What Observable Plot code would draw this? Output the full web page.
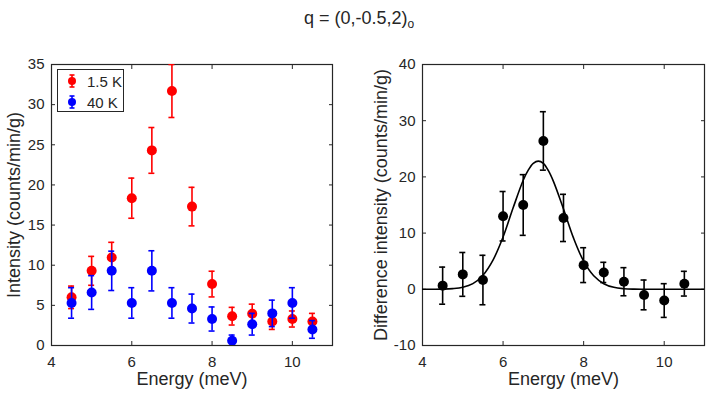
<!DOCTYPE html>
<html><head><meta charset="utf-8">
<script src="https://cdn.jsdelivr.net/npm/d3@7"></script>
<script src="https://cdn.jsdelivr.net/npm/@observablehq/plot@0.6"></script>
<style>
body{margin:0;background:#fff;font-family:"Liberation Sans",Arial,sans-serif;}
#wrap{position:relative;width:718px;height:399px;overflow:hidden;background:#fff;}
#title{position:absolute;left:0;width:718px;top:8px;text-align:center;font-size:18px;color:#262626;}
#title sub{font-size:12px;vertical-align:-4px;}
#left{position:absolute;left:0;top:40px;}
#right{position:absolute;left:360px;top:40px;}
#legend{position:absolute;left:57px;top:69px;width:65px;height:41px;border:1px solid #262626;background:#fff;font-size:15px;color:#262626;}
#legend .row{position:absolute;left:0;height:20px;display:flex;align-items:center;white-space:nowrap;}
#legend svg{display:block;}
svg text{font-family:"Liberation Sans",Arial,sans-serif;}
</style></head>
<body>
<div id="wrap">
  <div id="title">q = (0,-0.5,2)<sub>o</sub></div>
  <div id="left"></div>
  <div id="right"></div>
  <div id="legend"></div>
</div>
<script>
// ---- data ----
const energy   = [4.5, 5, 5.5, 6, 6.5, 7, 7.5, 8, 8.5, 9, 9.5, 10, 10.5];
const int15K   = [6.0, 9.3, 10.95, 18.35, 24.3, 31.7, 17.3, 7.65, 3.65, 3.95, 3.0, 3.3, 3.0];
const err15K   = [1.4, 1.8, 1.9, 2.5, 2.85, 3.3, 2.4, 1.6, 1.1, 1.2, 1.0, 1.0, 1.0];
const int40K   = [5.3, 6.6, 9.3, 5.3, 9.3, 5.3, 4.6, 3.3, 0.6, 2.65, 4.0, 5.3, 2.0];
const err40K   = [1.9, 2.1, 2.45, 1.9, 2.5, 1.9, 1.8, 1.5, 0.7, 1.35, 1.65, 1.9, 1.1];
const diffI    = [0.65, 2.65, 1.65, 13.0, 15.0, 26.4, 12.7, 4.3, 3.0, 1.35, -1.0, -2.0, 1.0];
const diffErr  = [3.3, 3.9, 4.4, 4.4, 5.4, 5.2, 4.2, 3.1, 1.8, 2.5, 2.65, 3.0, 2.2];
// fitted curve
const fitE = [4, 4.25, 4.5, 4.75, 5, 5.25, 5.5, 5.75, 6, 6.25, 6.5, 6.625, 6.75, 6.875, 7, 7.125, 7.25, 7.5, 7.75, 8, 8.25, 8.5, 8.75, 9, 9.25, 9.5, 10, 10.5, 11];
const fitI = [0, 0.01, 0.03, 0.12, 0.36, 1.0, 2.5, 5.2, 9.3, 14.5, 19.4, 21.2, 22.4, 22.8, 22.4, 21.1, 19.2, 14.3, 9.1, 5.0, 2.4, 1.0, 0.35, 0.11, 0.03, 0.01, 0, 0, 0];
const xTicks = [4, 6, 8, 10];
const yTicksLeft = [0, 5, 10, 15, 20, 25, 30, 35];
const yTicksRight = [-10, 0, 10, 20, 30, 40];
const series = ["1.5 K", "40 K"];
const colors = ["#ff0000", "#0000ff"];
const leftLabel = "Intensity (counts/min/g)";
const rightLabel = "Difference intensity (counts/min/g)";
const xLabel = "Energy (meV)";

const ink = "#262626";
const fmt = d => String(d);
const rows15 = energy.map((e, i) => ({e, v: int15K[i], s: err15K[i]}));
const rows40 = energy.map((e, i) => ({e, v: int40K[i], s: err40K[i]}));
const rowsD  = energy.map((e, i) => ({e, v: diffI[i], s: diffErr[i]}));
const fit = fitE.map((e, i) => ({e, v: fitI[i]}));

function errMarks(rows, color) {
  return [
    Plot.ruleX(rows, {x: "e", y1: d => d.v - d.s, y2: d => d.v + d.s, stroke: color, strokeWidth: 1.6, clip: true}),
    Plot.ruleY(rows, {y: d => d.v + d.s, x1: "e", x2: "e", insetLeft: -3, insetRight: -3, stroke: color, strokeWidth: 1.6, clip: true}),
    Plot.ruleY(rows, {y: d => d.v - d.s, x1: "e", x2: "e", insetLeft: -3, insetRight: -3, stroke: color, strokeWidth: 1.6, clip: true}),
    Plot.dot(rows, {x: "e", y: "v", r: 5, fill: color, stroke: null, clip: true})
  ];
}
function frameAxes(yTicks) {
  return [
    Plot.frame({stroke: ink, strokeWidth: 1.2}),
    Plot.axisX({ticks: xTicks, tickSize: -4, tickPadding: 15, fontSize: 15, color: ink, label: null, tickFormat: fmt}),
    Plot.axisX({anchor: "top", ticks: xTicks, tickSize: -4, tickFormat: () => "", color: ink, label: null}),
    Plot.axisY({ticks: yTicks, tickSize: -4, tickPadding: 11, fontSize: 15, color: ink, label: null, tickFormat: fmt}),
    Plot.axisY({anchor: "right", ticks: yTicks, tickSize: -4, tickFormat: () => "", color: ink, label: null}),
    Plot.text([xLabel], {text: d => d, frameAnchor: "bottom", dy: 39, fontSize: 18, fill: ink})
  ];
}

const left = Plot.plot({
  width: 345, height: 359,
  marginLeft: 51, marginRight: 13, marginTop: 24, marginBottom: 54,
  x: {domain: [4, 11]},
  y: {domain: [0, 35]},
  marks: [
    ...frameAxes(yTicksLeft),
    Plot.text([leftLabel], {text: d => d, frameAnchor: "left", textAnchor: "middle", rotate: -90, dx: -37, fontSize: 18, fill: ink}),
    ...errMarks(rows15, colors[0]),
    ...errMarks(rows40, colors[1])
  ]
});
document.getElementById("left").append(left);

const right = Plot.plot({
  width: 358, height: 359,
  marginLeft: 62, marginRight: 14, marginTop: 24, marginBottom: 54,
  x: {domain: [4, 11]},
  y: {domain: [-10, 40]},
  marks: [
    ...frameAxes(yTicksRight),
    Plot.text([rightLabel], {text: d => d, frameAnchor: "left", textAnchor: "middle", rotate: -90, dx: -41, fontSize: 18, fill: ink}),
    Plot.line(fit, {x: "e", y: "v", stroke: "#000", strokeWidth: 1.6, curve: "catmull-rom", clip: true}),
    ...errMarks(rowsD, "#000")
  ]
});
document.getElementById("right").append(right);

// legend
const leg = document.getElementById("legend");
series.forEach((name, i) => {
  const row = document.createElement("div");
  row.className = "row";
  row.style.top = (i === 0 ? 1 : 22) + "px";
  const c = colors[i];
  row.innerHTML = `<svg width="26" height="18"><line x1="14" y1="3" x2="14" y2="15" stroke="${c}" stroke-width="1.6"/><line x1="11.5" y1="3" x2="16.5" y2="3" stroke="${c}" stroke-width="1.6"/><line x1="11.5" y1="15" x2="16.5" y2="15" stroke="${c}" stroke-width="1.6"/><circle cx="14" cy="9" r="4" fill="${c}"/></svg><span style="margin-left:3px">${name}</span>`;
  leg.append(row);
});
</script>
</body></html>
